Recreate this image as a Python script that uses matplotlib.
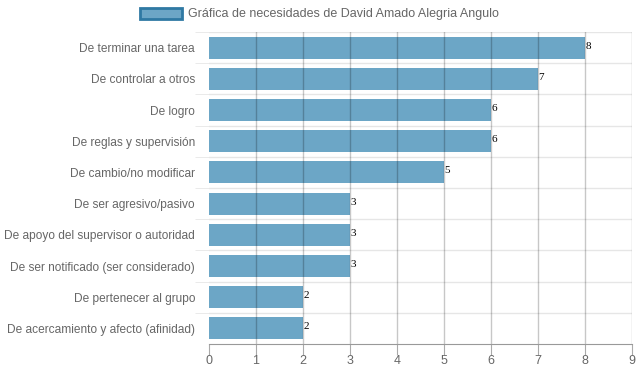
import matplotlib.pyplot as plt
from matplotlib.patches import Patch

# Datos de la grafica
categorias = [
    "De terminar una tarea",
    "De controlar a otros",
    "De logro",
    "De reglas y supervisión",
    "De cambio/no modificar",
    "De ser agresivo/pasivo",
    "De apoyo del supervisor o autoridad",
    "De ser notificado (ser considerado)",
    "De pertenecer al grupo",
    "De acercamiento y afecto (afinidad)",
]
valores = [8, 7, 6, 6, 5, 3, 3, 3, 2, 2]
ticks_x = list(range(0, 10))
titulo = "Gráfica de necesidades de David Amado Alegria Angulo"

plt.rcParams['font.family'] = ['Liberation Sans', 'DejaVu Sans']

fig = plt.figure(figsize=(6.39, 3.72), dpi=100)
ax = fig.add_axes([209 / 639, 1 - 344 / 372, 423 / 639, 312 / 372])

n = len(categorias)
pos = list(range(n))
ax.barh(pos, valores, height=0.7, color='#6ca6c6', zorder=1)

# Etiquetas de valor
for y, v in zip(pos, valores):
    ax.text(v + 0.01, y - 0.05, str(v), fontsize=8, family='Liberation Serif',
            color='black', va='center', ha='left', zorder=3)

ax.set_xlim(0, 9)
ax.set_ylim(n - 0.5, -0.5)
ax.set_xticks(ticks_x)
ax.set_yticks(pos)
ax.set_yticklabels(categorias, va='center_baseline')

# Lineas de cuadricula
for x in ticks_x[1:]:
    ax.axvline(x, color='#000000', alpha=0.22, lw=1, zorder=2)
for i in range(n):
    ax.axhline(i - 0.5, color='#e6e6e6', lw=1, zorder=0)

for s in ['top', 'right']:
    ax.spines[s].set_visible(False)
ax.spines['left'].set_visible(False)
ax.spines['bottom'].set_color('#999999')

ax.tick_params(axis='y', length=0, pad=10, labelsize=8.6, labelcolor='#666666')
ax.tick_params(axis='x', length=8, color='#aaaaaa', labelsize=9, labelcolor='#666666', pad=0)
ax.set_yticks([i - 0.5 for i in range(n)], minor=True)
ax.tick_params(axis='y', which='minor', length=10, color='#e6e6e6')

leg = fig.legend(handles=[Patch(facecolor='#6ca6c6', edgecolor='#2f79a3', lw=2, label=titulo)],
                 loc='center', bbox_to_anchor=(0.5, 1 - 14 / 372), frameon=False,
                 fontsize=9, handlelength=3.3, handleheight=1.0, handletextpad=0.5)
for t in leg.get_texts():
    t.set_color('#666666')

fig.savefig('out.png', dpi=100)
